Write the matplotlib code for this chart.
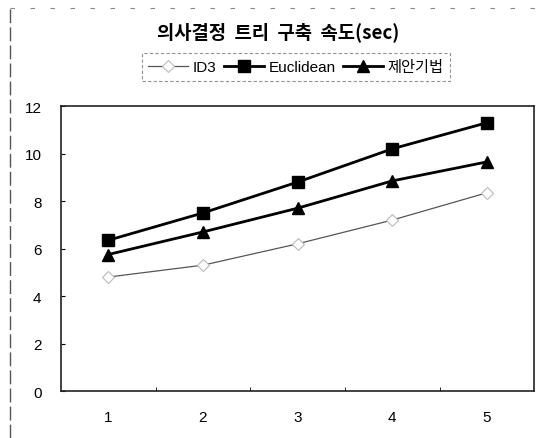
import matplotlib
matplotlib.use("Agg")
import matplotlib.pyplot as plt
from matplotlib.lines import Line2D

plt.rcParams['font.family'] = ['Liberation Sans', 'Noto Sans CJK KR', 'DejaVu Sans']

categories = ['1', '2', '3', '4', '5']
id3 = [4.8, 5.3, 6.2, 7.2, 8.35]
euclidean = [6.35, 7.5, 8.8, 10.2, 11.3]
proposed = [5.75, 6.7, 7.7, 8.85, 9.65]
y_ticks = [0, 2, 4, 6, 8, 10, 12]

fig = plt.figure(figsize=(5.44, 4.39), dpi=100)
ax = fig.add_axes([0.112, 0.107, 0.870, 0.649])

x = range(len(categories))
ax.plot(x, id3, color='#555555', lw=0.9, marker='D', markersize=6,
        markerfacecolor='white', markeredgecolor='#bbbbbb', markeredgewidth=0.8,
        label='ID3')
ax.plot(x, euclidean, color='black', lw=2, marker='s', markersize=8,
        label='Euclidean')
ax.plot(x, proposed, color='black', lw=2, marker='^', markersize=9,
        label='제안기법')

ax.set_xlim(-0.5, len(categories) - 0.5)
ax.set_ylim(0, 12)
ax.set_yticks(y_ticks)
ax.set_xticks(list(x))
ax.set_xticklabels(categories)
ax.set_xticks([i + 0.5 for i in range(len(categories) - 1)], minor=True)
ax.tick_params(axis='x', which='major', length=0, pad=14, labelsize=11)
ax.tick_params(axis='x', which='minor', direction='in', length=3)
ax.tick_params(axis='y', direction='in', length=3, pad=14, labelsize=11)
for s in ax.spines.values():
    s.set_linewidth(1.2)
    s.set_color('#222222')

fig.text(0.512, 0.927, '의사결정  트리  구축  속도(sec)', ha='center', va='center',
         fontsize=13.5, fontweight='bold', family=['Noto Sans CJK KR', 'DejaVu Sans'])

leg = fig.legend(loc='center', bbox_to_anchor=(0.544, 0.845), ncol=3, frameon=True,
                 fontsize=11, handlelength=2.6, handletextpad=0.3, columnspacing=0.5,
                 borderpad=0.45, fancybox=False)
leg.get_frame().set_edgecolor('#777777')
leg.get_frame().set_linestyle((0, (3, 2)))
leg.get_frame().set_linewidth(0.8)

# chart area border (only partly visible in the scan)
fig.add_artist(Line2D([0.018, 0.018], [0.0, 0.979], transform=fig.transFigure,
                      color='#555555', lw=1.0, linestyle=(0, (10, 3))))
fig.add_artist(Line2D([0.018, 0.99], [0.979, 0.979], transform=fig.transFigure,
                      color='#888888', lw=0.8, linestyle=(0, (4, 14))))

fig.savefig('out.png', dpi=100)
